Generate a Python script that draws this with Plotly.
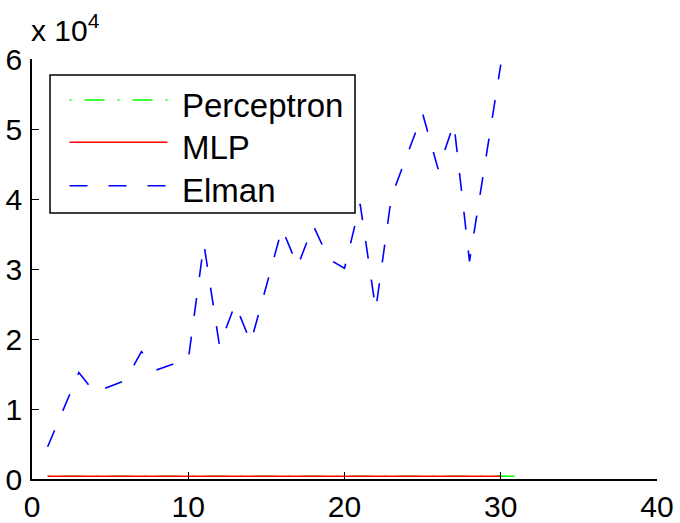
import plotly.graph_objects as go

# ---- data ----
x_perceptron = list(range(1, 32))
perceptron = [400, 400, 400, 400, 400, 400, 400, 400, 400, 400,
              400, 400, 400, 400, 400, 400, 400, 400, 400, 400,
              400, 400, 400, 400, 400, 400, 400, 400, 400, 400, 400]

x_mlp = list(range(1, 31))
mlp = [400, 400, 400, 400, 400, 400, 400, 400, 400, 400,
       400, 400, 400, 400, 400, 400, 400, 400, 400, 400,
       400, 400, 400, 400, 400, 400, 400, 400, 400, 400]

x_elman = list(range(1, 31))
elman = [4600, 9900, 15200, 12400, 13200, 14100, 18200, 15600, 16400, 17000,
         33600, 19000, 25000, 19500, 27600, 35800, 30400, 36200, 31400, 30100,
         39300, 24200, 40300, 46300, 52200, 44200, 50800, 31100, 45000, 59200]

series_names = ["Perceptron", "MLP", "Elman"]
series_colors = ["#00ff00", "#ff0000", "#0000ff"]
series_dash = ["2px,13px,20px,13px", "solid", "18px,21px"]

y_tickvals = [0, 10000, 20000, 30000, 40000, 50000, 60000]
y_ticktext = ["0", "1", "2", "3", "4", "5", "6"]
x_tickvals = [0, 10, 20, 30, 40]

FONT = "Liberation Sans, Arial, Helvetica, sans-serif"

fig = go.Figure()
for xs, ys, name, col, dsh in zip([x_perceptron, x_mlp, x_elman],
                                  [perceptron, mlp, elman],
                                  series_names, series_colors, series_dash):
    fig.add_trace(go.Scatter(x=xs, y=ys, mode="lines", name=name,
                             line=dict(color=col, width=1.6, dash=dsh),
                             showlegend=False))

W, H = 680, 523
ML, MR, MT, MB = 32, 23, 59, 44
PW, PH = W - ML - MR, H - MT - MB


def px(xp):
    return (xp - ML) / PW


def py(yp):
    return (H - MB - yp) / PH


shapes = []
annotations = []
# legend box
shapes.append(dict(type="rect", xref="paper", yref="paper",
                   x0=px(50), x1=px(355), y0=py(213), y1=py(75),
                   line=dict(color="black", width=1.5), fillcolor="white",
                   layer="above"))
row_line_y = [100, 142.3, 185.7]
row_text_y = [105, 147.5, 190]
for name, col, dsh, ly, ty in zip(series_names, series_colors, series_dash,
                                  row_line_y, row_text_y):
    shapes.append(dict(type="line", xref="paper", yref="paper",
                       x0=px(69.5), x1=px(167.5), y0=py(ly), y1=py(ly),
                       line=dict(color=col, width=1.6, dash=dsh),
                       layer="above"))
    annotations.append(dict(xref="paper", yref="paper", x=px(180), y=py(ty),
                            xanchor="left", yanchor="middle", showarrow=False,
                            text=name, font=dict(family=FONT, size=33, color="black")))

# exponent label
annotations.append(dict(xref="paper", yref="paper", x=px(29), y=py(28),
                        xanchor="left", yanchor="middle", showarrow=False,
                        text="x 10<sup>4</sup>",
                        font=dict(family=FONT, size=30, color="black")))

fig.update_layout(
    width=W, height=H,
    margin=dict(l=ML, r=MR, t=MT, b=MB, pad=0, autoexpand=False),
    paper_bgcolor="white", plot_bgcolor="white",
    font=dict(family=FONT, size=30, color="black"),
    shapes=shapes, annotations=annotations,
    showlegend=False,
)
fig.update_xaxes(range=[0, 40], tickvals=x_tickvals, ticks="inside", ticklen=7,
                 tickwidth=1, tickcolor="black", showline=True, linecolor="black",
                 linewidth=1.5, showgrid=False, zeroline=False, mirror=False,
                 automargin=False,
                 ticklabelstandoff=0, tickfont=dict(family=FONT, size=30, color="black"))
fig.update_yaxes(range=[0, 60000], tickvals=y_tickvals, ticktext=y_ticktext,
                 ticks="inside", ticklen=7, tickwidth=1, tickcolor="black",
                 showline=True, linecolor="black", linewidth=1.5, showgrid=False,
                 zeroline=False, mirror=False, ticklabelstandoff=2,
                 automargin=False,
                 tickfont=dict(family=FONT, size=30, color="black"))

fig.write_html("out.html", config={"displayModeBar": False},
               post_script="document.body.style.margin='0';document.body.style.padding='0';")
